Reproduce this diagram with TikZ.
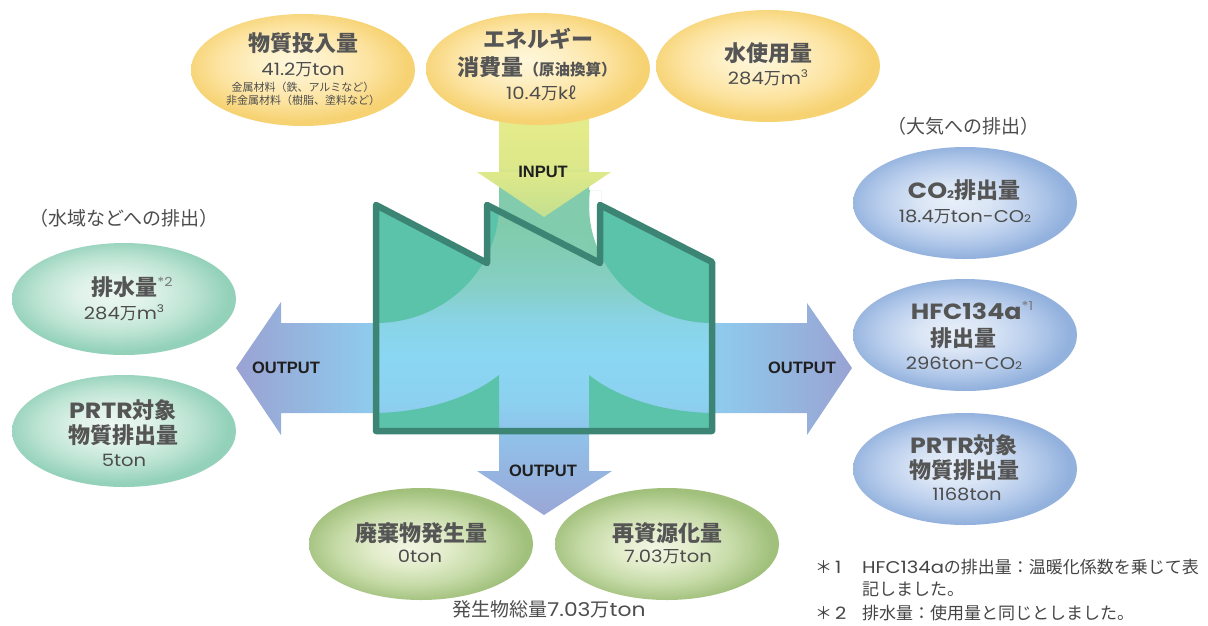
\documentclass[tikz,border=0pt]{standalone}
\usepackage{fontspec}
\setmainfont{Noto Sans CJK JP}
\newfontfamily\latf[FakeStretch=1.15]{Poppins}
\newfontfamily\arrf{Liberation Sans}
\usetikzlibrary{shapes.geometric}

% Latin runs, small subscripts and superscripts
\newcommand\la[1]{{\latf #1}}
\newcommand\subtwo{{\latf\fontsize{10.5}{10}\selectfont 2}}
\newcommand\supthree{\raisebox{0.45em}{\latf\fontsize{10.5}{10}\selectfont 3}}
\newcommand\starnote[1]{\raisebox{0.42em}{\color{notegray}\latf\mdseries\fontsize{12.5}{12}\selectfont *#1}}

% palette
\definecolor{factgreen}{HTML}{5CC3AB}
\definecolor{factline}{HTML}{3C8574}
\definecolor{ttlgray}{HTML}{555555}
\definecolor{txtgray}{HTML}{4D4D4D}
\definecolor{notegray}{HTML}{7A7A7A}
\definecolor{shaftteal}{HTML}{82CCAE}

% ellipse shadings
\definecolor{yA}{HTML}{FFF7DC}\definecolor{yB}{HTML}{FEF0C6}\definecolor{yC}{HTML}{FCE3A0}\definecolor{yD}{HTML}{F6D272}
\definecolor{gA}{HTML}{ECF7F2}\definecolor{gB}{HTML}{DFF2EA}\definecolor{gC}{HTML}{BDE4D3}\definecolor{gD}{HTML}{93D1BA}
\definecolor{bA}{HTML}{E7EFF9}\definecolor{bB}{HTML}{DAE5F5}\definecolor{bC}{HTML}{B8CDEC}\definecolor{bD}{HTML}{92B1DD}
\definecolor{oA}{HTML}{F1F5E3}\definecolor{oB}{HTML}{E3EDCC}\definecolor{oC}{HTML}{C5DAA6}\definecolor{oD}{HTML}{A1C07C}
\pgfdeclareradialshading{shY}{\pgfpoint{-3bp}{4bp}}{color(0bp)=(yA); color(8bp)=(yB); color(17bp)=(yC); color(25bp)=(yD); color(50bp)=(yD)}
\pgfdeclareradialshading{shG}{\pgfpoint{-3bp}{3bp}}{color(0bp)=(gA); color(8bp)=(gB); color(17bp)=(gC); color(25bp)=(gD); color(50bp)=(gD)}
\pgfdeclareradialshading{shB}{\pgfpoint{-3bp}{1bp}}{color(0bp)=(bA); color(8bp)=(bB); color(17bp)=(bC); color(25bp)=(bD); color(50bp)=(bD)}
\pgfdeclareradialshading{shO}{\pgfpoint{-3bp}{-2bp}}{color(0bp)=(oA); color(8bp)=(oB); color(17bp)=(oC); color(25bp)=(oD); color(50bp)=(oD)}

% factory interior and input shaft
\definecolor{fA}{HTML}{8FC4EA}\definecolor{fB}{HTML}{8CD1F0}\definecolor{fC}{HTML}{8AD7F3}
\definecolor{fD}{HTML}{89D3E4}\definecolor{fE}{HTML}{86CFC6}\definecolor{fF}{HTML}{82CCB2}\definecolor{fG}{HTML}{80CAA8}
\pgfdeclareverticalshading{factsh}{100bp}{color(0bp)=(fA); color(25bp)=(fA); color(32bp)=(fB); color(42bp)=(fC); color(50bp)=(fD); color(57bp)=(fE); color(66bp)=(fF); color(75bp)=(fG); color(100bp)=(fG)}
\definecolor{sA}{HTML}{82CCB0}\definecolor{sB}{HTML}{82CCAC}\definecolor{sC}{HTML}{CBE191}\definecolor{sD}{HTML}{DDE88A}\definecolor{sE}{HTML}{E6EC8A}
\pgfdeclareverticalshading{shaftsh}{100bp}{color(0bp)=(sA); color(25bp)=(sA); color(50bp)=(sB); color(54bp)=(sC); color(57bp)=(sD); color(75bp)=(sE); color(100bp)=(sE)}

\begin{document}
\begin{tikzpicture}[x=1pt,y=-1pt,
  ov/.style={ellipse, minimum width=224pt, minimum height=112pt, inner sep=0pt, draw=none, shade},
  ovY/.style={ov, shading=shY},
  ovG/.style={ov, shading=shG},
  ovB/.style={ov, shading=shB},
  ovO/.style={ov, shading=shO},
  txt/.style={inner sep=0pt, text height=0.86em, text depth=0.12em, align=center},
  ttl/.style={txt, font=\fontsize{22}{24}\selectfont\bfseries, text=ttlgray},
  val/.style={txt, font=\fontsize{17}{18}\selectfont, text=txtgray},
  sml/.style={txt, font=\fontsize{11}{12}\selectfont, text=txtgray},
  caption/.style={txt, font=\fontsize{19}{22}\selectfont, text=txtgray},
  note/.style={txt, anchor=west, font=\fontsize{17}{18}\selectfont, text=txtgray!90!black},
  flow/.style={inner sep=0pt, font=\arrf\fontsize{16.5}{18}\selectfont\bfseries, text=black!88},
  wall/.style={line width=6.5pt, line join=round, draw=factline}
]
% canvas
\fill[white] (0,0) rectangle (1208,625);
\useasboundingbox (0,0) rectangle (1208,625);

% output arrows, left / right / down
\path[left color={rgb,255:red,154;green,162;blue,211}, right color={rgb,255:red,142;green,205;blue,238}]
  (380,323) -- (281,323) -- (281,302) -- (236,368) -- (281,435) -- (281,413) -- (380,413) -- cycle;
\path[left color={rgb,255:red,142;green,205;blue,238}, right color={rgb,255:red,153;green,163;blue,211}]
  (708,323) -- (807,323) -- (807,303) -- (852,368) -- (807,435) -- (807,413) -- (708,413) -- cycle;
\path[top color={rgb,255:red,143;green,197;blue,236}, bottom color={rgb,255:red,154;green,166;blue,214}]
  (499,425) -- (589,425) -- (589,471) -- (612,471) -- (544,515) -- (477,471) -- (499,471) -- cycle;

% input shaft down to the roof
\shade[shading=shaftsh] (499,112) rectangle (589,265);
\begin{scope}
  \clip (589,190) rectangle (601,266);
  \fill[shaftteal, even odd rule] (589,190) rectangle (601,266)
    (712,205) ellipse[x radius=123pt, y radius=118pt];
\end{scope}

% factory interior
\begin{scope}
  \clip (376,205) -- (487,263) -- (487,205) -- (600,263) -- (600,205) -- (712,262) -- (712,431) -- (376,431) -- cycle;
  \shade[shading=factsh] (370,205) rectangle (720,432);
  \fill[factgreen] (376,205) ellipse[x radius=123pt, y radius=118pt];
  \fill[factgreen] (712,205) ellipse[x radius=123pt, y radius=118pt];
  \fill[factgreen] (376,413) .. controls (425,412) and (470,398) .. (499,375) -- (499,440) -- (370,440) -- (370,413) -- cycle;
  \fill[factgreen] (712,413) .. controls (663,412) and (618,398) .. (589,375) -- (589,440) -- (720,440) -- (720,413) -- cycle;
\end{scope}

% input arrow head
\path[top color={rgb,255:red,223;green,233;blue,138}, bottom color={rgb,255:red,195;green,223;blue,143}]
  (477,172) -- (611,172) -- (544,217) -- cycle;

% factory outline
\draw[wall] (376,205) -- (487,263) -- (487,205) -- (600,263) -- (600,205) -- (712,262) -- (712,431) -- (376,431) -- cycle;

% flow labels
\node[flow] (lin) at (543,172) {INPUT};
\node[flow] (loutL) at (286,368) {OUTPUT};
\node[flow] (loutR) at (802,368) {OUTPUT};
\node[flow] (loutD) at (543,471) {OUTPUT};

% input ellipses
\node[ovY] (inMat) at (303,70) {};
\node[ovY] (inEne) at (538,69) {};
\node[ovY] (inWat) at (768,66) {};
\node[ttl] (inMat1) at (303,48) {物質投入量};
\node[val] (inMat2) at (303,72) {\la{41.2}万\la{ton}};
\node[sml] (inMat3) at (303,88) {金属材料（鉄、アルミなど）};
\node[sml] (inMat4) at (303,101) {非金属材料（樹脂、塗料など）};
\node[ttl] (inEne1) at (538,44) {エネルギー};
\node[ttl] (inEne2) at (537,72) {消費量{\fontsize{15.5}{18}\selectfont （原油換算）}};
\node[val] (inEne3) at (541,96) {\la{10.4}万\la{k}ℓ};
\node[ttl] (inWat1) at (768,58) {水使用量};
\node[val] (inWat2) at (768,81) {\la{284}万\la{m}\supthree};

% discharge to water
\node[caption] (capW) at (124,222) {（水域などへの排出）};
\node[ovG] (wDis) at (124,299) {};
\node[ovG] (wPrt) at (124,431) {};
\node[ttl] (wDis1) at (132,292) {排水量\starnote{2}};
\node[val] (wDis2) at (124,316) {\la{284}万\la{m}\supthree};
\node[ttl] (wPrt1) at (123,415) {\la{PRTR}対象};
\node[ttl] (wPrt2) at (123,440) {物質排出量};
\node[val] (wPrt3) at (124,463) {\la{5ton}};

% discharge to air
\node[caption] (capA) at (963,130) {（大気への排出）};
\node[ovB] (aCo2) at (965,203) {};
\node[ovB] (aHfc) at (965,335) {};
\node[ovB] (aPrt) at (965,469) {};
\node[ttl] (aCo21) at (964,195) {\la{CO}\subtwo 排出量};
\node[val] (aCo22) at (965,219) {\la{18.4}万\la{ton-CO}\subtwo};
\node[ttl] (aHfc1) at (972,316) {\la{HFC134a}\starnote{1}};
\node[ttl] (aHfc2) at (963,343) {排出量};
\node[val] (aHfc3) at (964,366) {\la{296ton-CO}\subtwo};
\node[ttl] (aPrt1) at (964,450) {\la{PRTR}対象};
\node[ttl] (aPrt2) at (964,475) {物質排出量};
\node[val] (aPrt3) at (967,497) {\la{1168ton}};

% waste
\node[ovO] (dWas) at (421,544) {};
\node[ovO] (dRec) at (667,544) {};
\node[ttl] (dWas1) at (421,538) {廃棄物発生量};
\node[val] (dWas2) at (420,559) {\la{0ton}};
\node[ttl] (dRec1) at (667,538) {再資源化量};
\node[val] (dRec2) at (668,559) {\la{7.03}万\la{ton}};
\node[txt, font=\fontsize{19}{20}\selectfont, text=txtgray] (dTot) at (549,613) {発生物総量\la{7.03}万\la{ton}};

% footnotes
\node[note] (n1a) at (815,570) {＊\hspace{3pt}\la{1}};
\node[note] (n1b) at (862,570) {\la{HFC134a}の排出量：温暖化係数を乗じて表};
\node[note] (n1c) at (862,592) {記しました。};
\node[note] (n2a) at (815,616) {＊\hspace{3pt}\la{2}};
\node[note] (n2b) at (862,616) {排水量：使用量と同じとしました。};
\end{tikzpicture}
\end{document}
